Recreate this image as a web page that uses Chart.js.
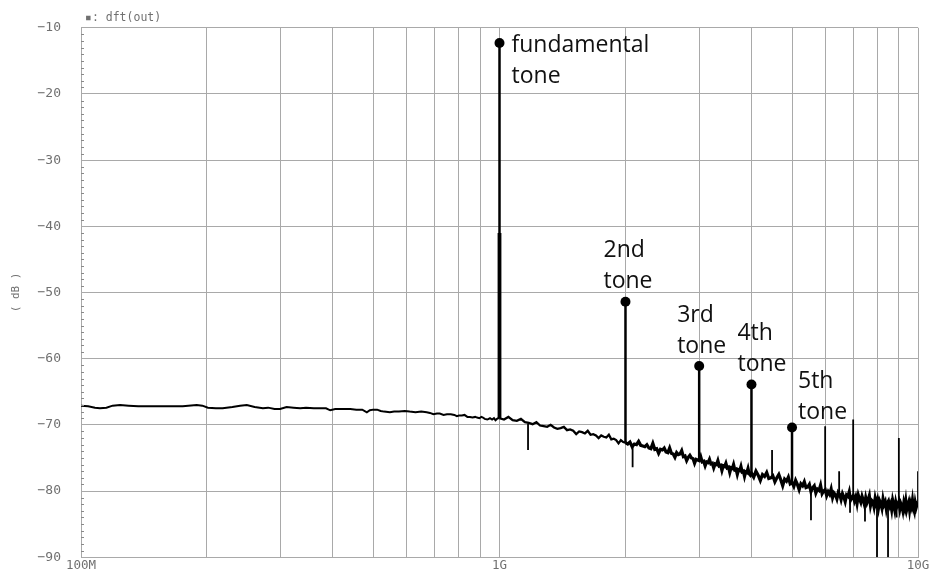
<!DOCTYPE html>
<html><head><meta charset="utf-8">
<script src="https://cdn.jsdelivr.net/npm/chart.js@4.4.1/dist/chart.umd.min.js"></script>
<style>html,body{margin:0;padding:0;background:#fff;}canvas{display:block;}</style>
</head><body>
<canvas id="c" width="934" height="585"></canvas>
<script>
// ---- axis ticks ----
const xTickValues = [1e8, 1e9, 1e10];
const xTickLabels = ['100M', '1G', '10G'];
const yMin = -90, yMax = -10, yStep = 10;

// ---- noise floor 100 MHz .. 1 GHz ----
const lowFreqGHz = [0.100,0.104,0.108,0.111,0.115,0.119,0.124,0.130,0.137,0.146,0.155,0.165,0.175,0.189,0.195,0.201,0.210,0.218,0.230,0.240,0.249,0.260,0.272,0.280,0.290,0.299,0.310,0.322,0.334,0.345,0.360,0.372,0.385,0.394,0.405,0.420,0.427,0.440,0.455,0.470,0.482,0.490,0.499,0.510,0.520,0.530,0.547,0.560,0.575,0.594,0.610,0.630,0.650,0.670,0.682,0.695,0.709,0.720,0.735,0.749,0.765,0.780,0.791,0.800,0.813,0.825,0.838,0.850,0.862,0.875,0.884,0.895,0.905,0.913,0.922,0.935,0.949,0.960,0.970,0.978,0.986,0.993];
const lowDb = [-67.1,-67.2,-67.4,-67.5,-67.4,-67.1,-67.0,-67.1,-67.2,-67.2,-67.2,-67.2,-67.2,-67.0,-67.1,-67.4,-67.5,-67.5,-67.3,-67.1,-67.0,-67.3,-67.5,-67.4,-67.6,-67.6,-67.3,-67.4,-67.5,-67.4,-67.5,-67.5,-67.5,-67.8,-67.6,-67.6,-67.6,-67.6,-67.7,-67.7,-68.1,-67.8,-67.7,-67.7,-67.9,-68.0,-68.1,-68.0,-68.0,-67.9,-68.0,-68.1,-68.0,-68.1,-68.2,-68.4,-68.3,-68.3,-68.5,-68.4,-68.4,-68.5,-68.7,-68.6,-68.6,-68.5,-68.8,-68.8,-68.9,-68.8,-68.9,-69.0,-68.8,-68.9,-69.1,-69.2,-69.0,-69.2,-69.0,-69.3,-69.1,-69.0];

// ---- noise floor above 1 GHz: DFT bins (start, step in GHz) ----
const bin1StartGHz = 1.0, bin1StepGHz = 0.025;
const bin1Db = [-69.0,-69.2,-68.8,-69.3,-69.4,-69.1,-69.6,-69.7,-69.9,-69.6,
 -70.1,-70.2,-70.3,-70.0,-70.4,-70.6,-70.5,-70.3,-70.8,-70.7,
 -70.9,-71.4,-71.0,-71.1,-71.3,-70.9,-71.5,-71.4,-71.6,-72.0,
 -71.6,-71.8,-71.9,-71.5,-72.2,-72.1,-72.3,-72.8,-72.3,-72.6];
const bin2StartGHz = 2.0, bin2StepGHz = 0.025;
const bin2Db = [-72.7,-72.9,-72.6,-73.3,-72.9,-73.0,-72.5,-73.1,-73.2,-73.3,
 -73.0,-73.5,-73.6,-72.8,-73.7,-73.6,-74.3,-73.7,-73.8,-73.5,
 -74.1,-74.2,-73.5,-74.3,-74.4,-74.9,-74.2,-74.5,-74.4,-73.9,
 -74.8,-74.7,-75.4,-74.9,-74.6,-75.0,-75.1,-75.8,-75.2,-75.3,
 -75.4,-74.8,-75.6,-75.5,-76.2,-75.6,-75.7,-75.2,-75.9,-75.8,
 -76.5,-75.9,-76.0,-75.4,-76.2,-76.1,-76.9,-76.2,-76.3,-75.8,
 -76.5,-76.4,-77.2,-76.5,-76.6,-76.0,-76.8,-76.7,-77.5,-76.8,
 -76.9,-76.3,-77.1,-77.0,-77.8,-77.1,-77.2,-76.6,-77.4,-77.6];
const bin3StartGHz = 4.0, bin3StepGHz = 0.05;
const bin3Db = [-77.3,-77.9,-77.0,-77.6,-78.4,-77.5,-77.8,-77.2,-78.1,-78.0,
 -77.7,-78.6,-78.0,-77.5,-78.3,-79.2,-78.2,-78.5,-77.9,-78.9,
 -78.7,-79.3,-78.4,-79.0,-79.8,-78.9,-79.2,-78.6,-79.5,-79.4,
 -79.0,-80.1,-79.5,-79.2,-80.3,-79.7,-79.9,-79.1,-80.4,-80.0,
 -79.8,-80.7,-80.1,-80.5,-79.7,-81.0,-80.3,-80.6,-81.2,-80.2,
 -80.5,-81.3,-80.4,-80.9,-81.6,-80.6,-80.8,-80.1,-81.4,-81.0,
 -80.7,-81.5,-80.9,-81.9,-80.6,-81.2,-81.7,-80.8,-81.4,-82.1,
 -81.0,-81.8,-81.3,-80.7,-82.2,-81.4,-81.6,-82.4,-81.1,-81.9,
 -81.3,-82.5,-81.5,-81.9,-82.6,-81.2,-82.0,-81.6,-82.7,-81.8,
 -81.5,-82.3,-81.9,-82.8,-81.4,-82.1,-82.9,-81.7,-82.4,-82.0,
 -81.6,-82.7,-81.9,-82.3,-83.0,-81.8,-82.5,-81.5,-82.8,-82.2,
 -81.7,-82.9,-81.9,-82.4,-81.4,-82.6,-83.1,-81.8,-82.5,-82.0,-82.2];

// ---- tones (harmonics) ----
const toneFreqGHz = [1, 2, 3, 4, 5];
const toneDb      = [-12.3, -51.4, -61.1, -63.9, -70.4];
const toneBaseDb  = [-69.0, -72.7, -75.4, -77.3, -78.7];
const toneNames   = [['fundamental','tone'],['2nd','tone'],['3rd','tone'],['4th','tone'],['5th','tone']];

// wider skirt of the fundamental bin
const skirtFreqGHz = [0.995, 1.005];
const skirtTopDb   = [-41, -41];
const skirtBaseDb  = [-69, -69];

// ---- other spurs and dips (from, to) ----
const spurFreqGHz = [6.0, 7.0, 9.0, 10.0, 4.48, 6.48, 1.17, 2.08, 5.55, 7.47, 7.98, 8.48, 6.88, 8.89];
const spurFromDb  = [-80.0, -80.8, -81.8, -82.0, -77.8, -80.5, -69.8, -73.3, -79.6, -81.0, -81.5, -81.7, -81.0, -81.8];
const spurToDb    = [-70.2, -69.2, -72.0, -77.0, -73.8, -77.0, -73.8, -76.4, -84.4, -84.6, -90.0, -90.0, -83.3, -84.0];

// ---------- build datasets ----------
const G = 1e9;
const noiseLow = lowFreqGHz.map((f, i) => ({x: f * G, y: lowDb[i]}));
const noiseHigh = [];
[[bin1StartGHz, bin1StepGHz, bin1Db],[bin2StartGHz, bin2StepGHz, bin2Db],[bin3StartGHz, bin3StepGHz, bin3Db]]
  .forEach(([s, st, arr]) => arr.forEach((v, i) => noiseHigh.push({x: (s + i * st) * G, y: v})));
noiseLow.push(noiseHigh[0]);

function stems(freqs, from, to) {
  const out = [];
  freqs.forEach((f, i) => {
    out.push({x: f * G, y: from[i]}, {x: f * G, y: to[i]}, {x: f * G, y: null});
  });
  return out;
}

const MONO = '"DejaVu Sans Mono", monospace';
const GRID = '#a9a9a9';
const TXT = '#707070';

const annot = {
  id: 'annot',
  afterDatasetsDraw(chart, args, opts) {
    const {ctx, chartArea: a, scales: {x, y}} = chart;
    ctx.save();
    // minor y ticks
    ctx.strokeStyle = '#8a8a8a'; ctx.lineWidth = 1;
    for (let v = yMin + 1; v < yMax; v++) {
      if (v % 10 === 0) continue;
      const py = Math.round(y.getPixelForValue(v)) + 0.5;
      ctx.beginPath(); ctx.moveTo(a.left, py); ctx.lineTo(a.left + 3, py); ctx.stroke();
    }
    // tone labels
    ctx.fillStyle = '#111';
    ctx.font = '23px "Open Sans", "Noto Sans", sans-serif';
    ctx.textAlign = 'left'; ctx.textBaseline = 'alphabetic';
    toneFreqGHz.forEach((f, i) => {
      const px = x.getPixelForValue(f * G), py = y.getPixelForValue(toneDb[i]);
      const [dx, dy] = opts.offsets[i];
      toneNames[i].forEach((t, k) => ctx.fillText(t, px + dx, py + dy + k * opts.lineGap));
    });
    // trace title
    ctx.fillStyle = TXT;
    ctx.font = '11.5px ' + MONO;
    ctx.fillText('\u25AA: dft(out)', a.left + 4, 21);
    ctx.restore();
  }
};

new Chart(document.getElementById('c'), {
  type: 'line',
  data: {
    datasets: [
      {data: noiseLow, borderColor: '#000', borderWidth: 2, pointRadius: 0, tension: 0, order: 6},
      {data: noiseHigh, borderColor: '#000', borderWidth: 2.3, pointRadius: 0, tension: 0, order: 5,
       segment: {borderWidth: c => c.p0.parsed.x >= 2e9 ? 3.2 : 2.3}},
      {data: stems(spurFreqGHz, spurFromDb, spurToDb), borderColor: '#000', borderWidth: 1.8, pointRadius: 0, spanGaps: false, order: 4},
      {data: stems(skirtFreqGHz, skirtBaseDb, skirtTopDb), borderColor: '#000', borderWidth: 2, pointRadius: 0, spanGaps: false, order: 3},
      {data: stems(toneFreqGHz, toneBaseDb, toneDb), borderColor: '#000', borderWidth: 2.5, pointRadius: 0, spanGaps: false, order: 2},
      {data: toneFreqGHz.map((f, i) => ({x: f * G, y: toneDb[i]})), showLine: false, pointRadius: 5, pointBackgroundColor: '#000', pointBorderColor: '#000', borderWidth: 0, order: 1}
    ]
  },
  options: {
    responsive: false,
    animation: false,
    events: [],
    layout: {padding: {top: 27, right: 16, bottom: 0, left: 0}},
    plugins: {
      legend: {display: false},
      tooltip: {enabled: false},
      annot: {offsets: [[12, 8.5], [-22, -45], [-22, -44], [-14, -44], [6, -39]], lineGap: 31}
    },
    scales: {
      x: {
        type: 'logarithmic', min: 1e8, max: 1e10,
        afterBuildTicks: s => {
          const t = [];
          for (let d = 1e8; d < 1e10; d *= 10) for (let m = 1; m <= 9; m++) t.push({value: m * d});
          t.push({value: 1e10});
          s.ticks = t;
        },
        afterFit: s => { s.height = 15; },
        ticks: {
          autoSkip: false, maxRotation: 0, padding: 1,
          color: TXT, font: {family: MONO, size: 12.5},
          callback: v => { const i = xTickValues.findIndex(t => Math.abs(t - v) / t < 1e-6); return i >= 0 ? xTickLabels[i] : ''; }
        },
        grid: {color: GRID, drawTicks: false, lineWidth: 1},
        border: {color: GRID}
      },
      y: {
        min: yMin, max: yMax,
        afterFit: s => { s.width = 81; },
        ticks: {stepSize: yStep, padding: 20, color: TXT, font: {family: MONO, size: 13},
          callback: v => String(v).replace('-', '\u2212')},
        grid: {color: GRID, drawTicks: false, lineWidth: 1},
        border: {color: GRID},
        title: {display: true, text: '( dB )', color: TXT, font: {family: MONO, size: 11}, padding: {top: 10, bottom: 0}}
      }
    }
  },
  plugins: [annot]
});
</script>
</body></html>
